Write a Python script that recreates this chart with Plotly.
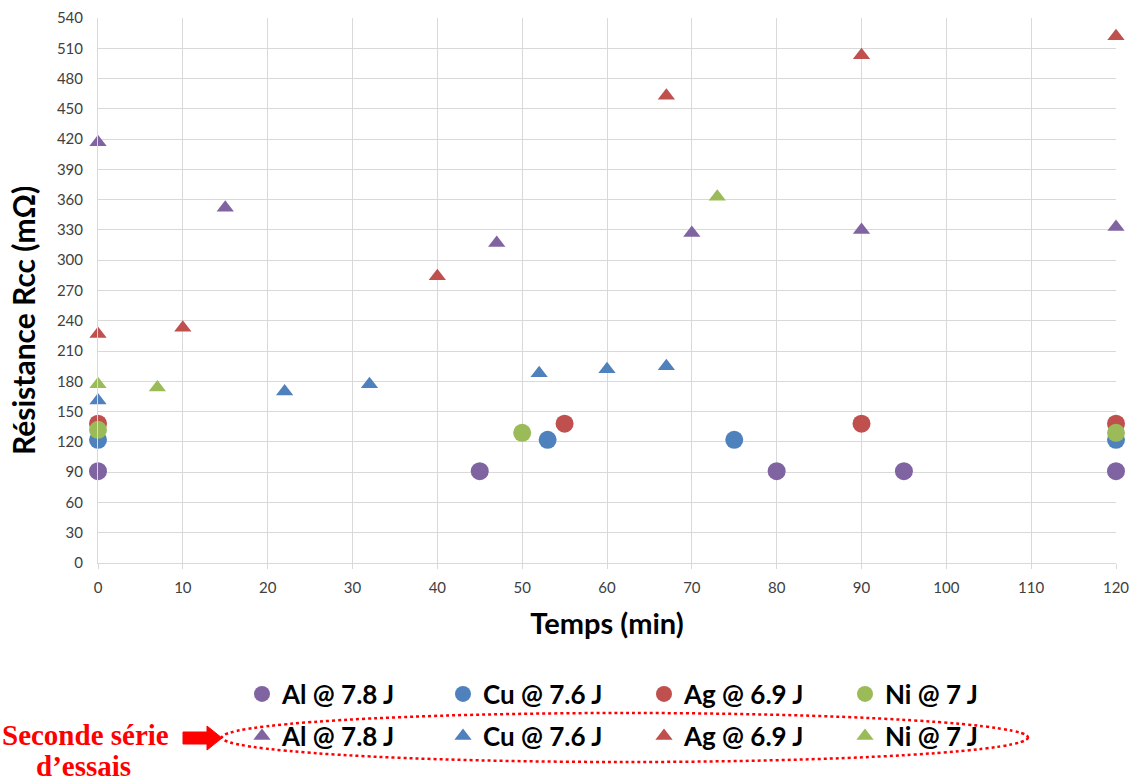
import plotly.graph_objects as go

# ---- data ----
al1_x = [0, 45, 80, 95, 120]
al1_y = [91, 91, 91, 91, 91]
cu1_x = [0, 53, 75, 120]
cu1_y = [122, 122, 122, 122]
ag1_x = [0, 55, 90, 120]
ag1_y = [138, 138, 138, 138]
ni1_x = [0, 50, 120]
ni1_y = [132, 129, 129]

al2_x = [0, 15, 47, 70, 90, 120]
al2_y = [417, 352, 317, 327, 330, 333]
cu2_x = [0, 22, 32, 52, 60, 67]
cu2_y = [161, 170, 177, 188, 192, 195]
ag2_x = [0, 10, 40, 67, 90, 120]
ag2_y = [227, 233, 284, 463, 503, 522]
ni2_x = [0, 7, 73]
ni2_y = [177, 174, 363]

names = ["Al @ 7.8 J", "Cu @ 7.6 J", "Ag @ 6.9 J", "Ni @ 7 J"]
colors = ["#8064A2", "#4F81BD", "#C0504D", "#9BBB59"]

x_ticks = list(range(0, 121, 10))
y_ticks = list(range(0, 541, 30))

fig = go.Figure()
first = [(al1_x, al1_y), (cu1_x, cu1_y), (ag1_x, ag1_y), (ni1_x, ni1_y)]
second = [(al2_x, al2_y), (cu2_x, cu2_y), (ag2_x, ag2_y), (ni2_x, ni2_y)]
for (xs, ys), n, c in zip(first, names, colors):
    fig.add_trace(go.Scatter(x=xs, y=ys, mode="markers", name=n, legend="legend",
                             marker=dict(symbol="circle", size=18, color=c), cliponaxis=False))
for (xs, ys), n, c in zip(second, names, colors):
    fig.add_trace(go.Scatter(x=xs, y=ys, mode="markers", name=n, legend="legend2",
                             marker=dict(symbol="triangle-up", size=15, color=c), cliponaxis=False))

L, R, T, B = 98, 1116, 18, 563
def px(X):
    return (X - L) / (R - L)
def py(Y):
    return (B - Y) / (B - T)

legfont = dict(family="Lato", size=26, color="#000000", weight="bold")
fig.update_layout(
    width=1133, height=783,
    paper_bgcolor="white", plot_bgcolor="white",
    margin=dict(l=L, r=1133 - R, t=T, b=783 - B, autoexpand=False),
    font=dict(family="Lato", color="#404040"),
    xaxis=dict(range=[0, 120], tickvals=x_ticks, showgrid=True, gridcolor="#D9D9D9",
               gridwidth=1, zeroline=False, showline=True, linecolor="#D9D9D9",
               ticks="outside", ticklen=5, tickcolor="#D9D9D9", automargin=False,
               ticklabelstandoff=6,
               tickfont=dict(size=15, color="#404040"),
               title=dict(text="Temps (min)", font=dict(size=29, color="#000000", weight="bold"),
                          standoff=18)),
    yaxis=dict(range=[0, 540], tickvals=y_ticks, showgrid=True, gridcolor="#D9D9D9",
               gridwidth=1, zeroline=False, showline=True, linecolor="#D9D9D9",
               ticks="", automargin=False, ticklabelstandoff=11,
               tickfont=dict(size=15, color="#404040")),
    legend=dict(orientation="h", x=px(242), xanchor="left", y=py(694), yanchor="middle",
                entrywidth=156, font=legfont, bgcolor="rgba(0,0,0,0)"),
    legend2=dict(orientation="h", x=px(242), xanchor="left", y=py(736), yanchor="middle",
                 entrywidth=156, font=legfont, bgcolor="rgba(0,0,0,0)"),
    showlegend=True,
)

# y axis title (placed as in the reference, slightly below centre)
fig.add_annotation(text="<b>Résistance Rcc (mΩ)</b>", xref="paper", yref="paper",
                   x=px(23), y=py(321), textangle=-90, showarrow=False,
                   font=dict(family="Lato", size=30, color="#000000"),
                   xanchor="center", yanchor="middle")

# dotted ellipse
fig.add_shape(type="circle", xref="paper", yref="paper",
              x0=px(222), x1=px(1028), y0=py(762), y1=py(713),
              line=dict(color="#FF0000", width=2.5, dash="dot"))
# block arrow
pts = [(183, 732), (207, 732), (207, 726), (222, 738), (207, 750), (207, 744), (183, 744)]
path = "M " + " L ".join(f"{px(a)},{py(b)}" for a, b in pts) + " Z"
fig.add_shape(type="path", xref="paper", yref="paper", path=path,
              fillcolor="#FF0000", line=dict(color="#FF0000", width=1))

serif = dict(family="Liberation Serif", size=29, color="#FF0000", weight="bold")
fig.add_annotation(text="Seconde série", xref="paper", yref="paper", x=px(85), y=py(735),
                   showarrow=False, font=serif, xanchor="center", yanchor="middle")
fig.add_annotation(text="d’essais", xref="paper", yref="paper", x=px(83), y=py(766),
                   showarrow=False, font=serif, xanchor="center", yanchor="middle")

fig.write_html("out.html", config={"displayModeBar": False})

# remove the browser's default page margin so the figure fills the window exactly
with open("out.html", "r", encoding="utf-8") as f:
    html = f.read()
html = html.replace("<body>", '<body style="margin:0;overflow:hidden">', 1)
with open("out.html", "w", encoding="utf-8") as f:
    f.write(html)
